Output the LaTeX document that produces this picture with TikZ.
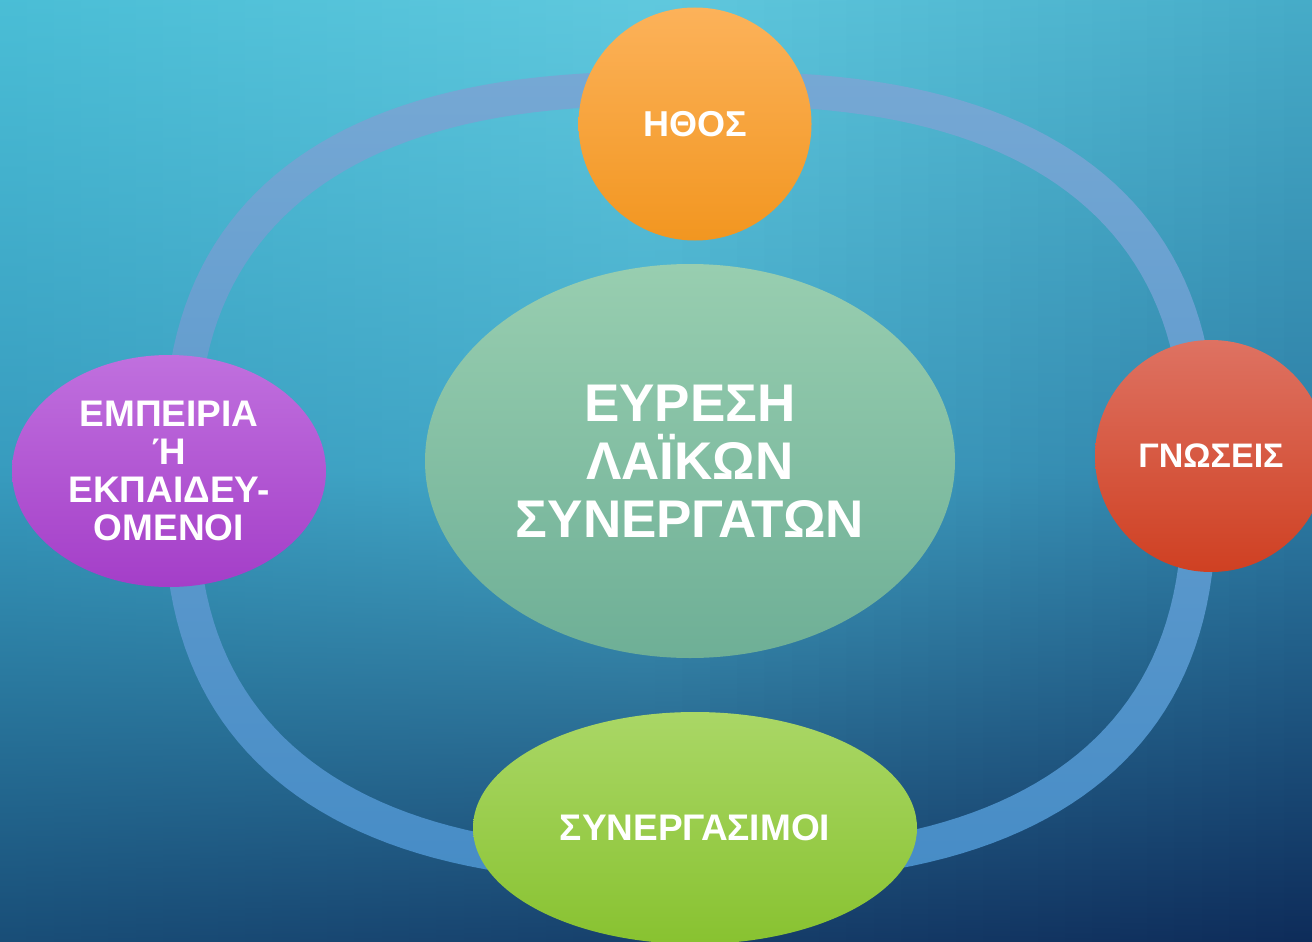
\documentclass[tikz,border=0pt]{standalone}
\usepackage{fontspec}
\setmainfont{Liberation Sans}
\usetikzlibrary{shapes.geometric}
\definecolor{TL}{RGB}{74,190,214}
\definecolor{TM}{RGB}{96,201,222}
\definecolor{TR}{RGB}{70,172,200}
\definecolor{ML}{RGB}{55,155,190}
\definecolor{MM}{RGB}{68,168,200}
\definecolor{MR}{RGB}{45,125,165}
\definecolor{BL}{RGB}{24,76,118}
\definecolor{BM}{RGB}{22,62,106}
\definecolor{BR}{RGB}{13,42,88}
\definecolor{ringT}{RGB}{118,168,212}
\definecolor{ringB}{RGB}{70,140,198}
\definecolor{ethT}{RGB}{252,178,90}
\definecolor{ethB}{RGB}{242,150,32}
\definecolor{gnoT}{RGB}{222,114,98}
\definecolor{gnoB}{RGB}{207,64,34}
\definecolor{synT}{RGB}{170,215,102}
\definecolor{synB}{RGB}{136,194,48}
\definecolor{empT}{RGB}{192,112,222}
\definecolor{empB}{RGB}{164,62,200}
\definecolor{cenT}{RGB}{152,206,176}
\definecolor{cenB}{RGB}{110,175,150}
\begin{document}
\begin{tikzpicture}[x=1pt,y=-1pt,
  bub/.style={ellipse, inner sep=0pt, text=white, align=center}]
\useasboundingbox (0,0) rectangle (1312,942);
\clip (0,0) rectangle (1312,942);
% background
\fill[TL] (-10,-10) rectangle (1322,952);
\foreach \i in {0,...,47}{
  \pgfmathsetmacro\xa{\i*27.3333-0.5}
  \pgfmathsetmacro\xb{(\i+1)*27.3333+1}
  \pgfmathsetmacro\qa{min(1,(\i+0.5)/24)*100}
  \pgfmathsetmacro\qb{max(0,(\i+0.5)/24-1)*100}
  \colorlet{aT}{TM!\qa!TL}\colorlet{cT}{TR!\qb!aT}
  \colorlet{aM}{MM!\qa!ML}\colorlet{cM}{MR!\qb!aM}
  \colorlet{aB}{BM!\qa!BL}\colorlet{cB}{BR!\qb!aB}
  \fill[top color=cT, bottom color=cB, middle color=cM] (\xa,-8) rectangle (\xb,950);
}
% ring
\path[top color=ringT, bottom color=ringB, even odd rule]
  plot[domain=1:361, samples=181, variable=\t]
    ({690+527*cos(\t)*abs(cos(\t))^(-0.2308)},{477+406*sin(\t)*abs(sin(\t))^(-0.2308)}) -- cycle
  plot[domain=1:361, samples=181, variable=\t]
    ({690+493*cos(\t)*abs(cos(\t))^(-0.2308)},{477+372*sin(\t)*abs(sin(\t))^(-0.2308)}) -- cycle;
% nodes
\node[bub, minimum width=530pt, minimum height=394pt, top color=cenT, bottom color=cenB,
  font=\fontsize{53}{58}\selectfont\bfseries] (center) at (690,461) {ΕΥΡΕΣΗ\\ΛΑΪΚΩΝ\\ΣΥΝΕΡΓΑΤΩΝ};
\node[bub, minimum width=233pt, minimum height=233pt, top color=ethT, bottom color=ethB,
  font=\fontsize{36}{44}\selectfont\bfseries] (ethos) at (695,124) {ΗΘΟΣ};
\node[bub, minimum width=232pt, minimum height=232pt, top color=gnoT, bottom color=gnoB,
  font=\fontsize{34}{40}\selectfont\bfseries] (gnoseis) at (1211,456) {ΓΝΩΣΕΙΣ};
\node[bub, minimum width=444pt, minimum height=232pt, top color=synT, bottom color=synB,
  font=\fontsize{37}{42}\selectfont\bfseries] (syn) at (695,828) {ΣΥΝΕΡΓΑΣΙΜΟΙ};
\node[bub, minimum width=314pt, minimum height=232pt, top color=empT, bottom color=empB,
  font=\fontsize{37}{38}\selectfont\bfseries] (emp) at (169,471) {ΕΜΠΕΙΡΙΑ\\Ή\\ΕΚΠΑΙΔΕΥ-\\ΟΜΕΝΟΙ};
\end{tikzpicture}
\end{document}
